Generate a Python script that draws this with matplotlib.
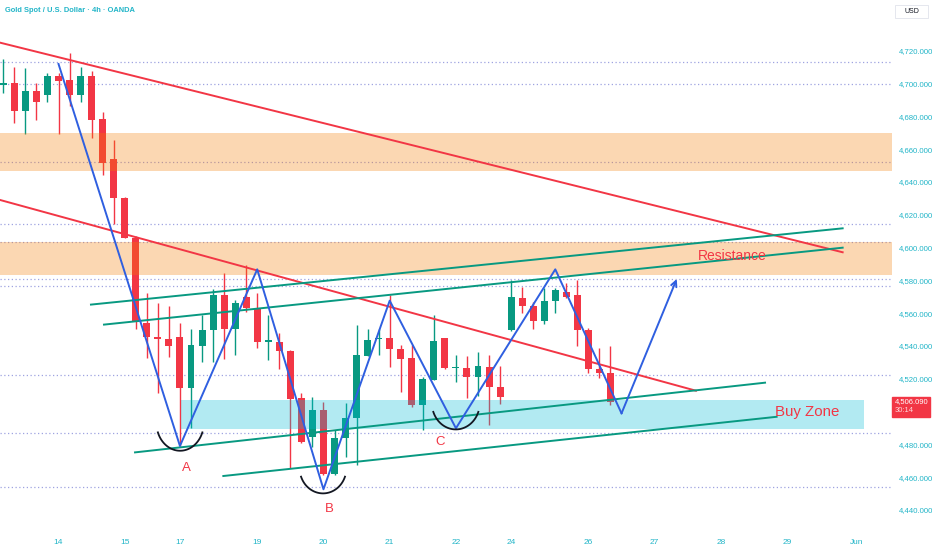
import matplotlib
matplotlib.use('Agg')
import matplotlib.pyplot as plt
from matplotlib import font_manager
from matplotlib.patches import Rectangle
import numpy as np

# XAUUSD 4h candles (bar index 0 = first bar on screen)
opens = [4699.1, 4700.5, 4683.2, 4695.6, 4693.0, 4704.8, 4702.1, 4693.0, 4704.6, 4678.4,
         4654.0, 4630.4, 4606.0, 4554.1, 4545.6, 4544.0, 4545.6, 4514.5, 4540.1, 4549.7,
         4571.0, 4550.1, 4570.0, 4562.9, 4542.7, 4542.6, 4537.1, 4508.0, 4484.6, 4500.9,
         4461.8, 4483.7, 4495.9, 4534.0, 4544.0, 4544.6, 4538.1, 4532.4, 4504.0, 4519.2,
         4544.6, 4526.4, 4526.3, 4521.2, 4527.3, 4515.1, 4549.7, 4569.4, 4564.5, 4555.4,
         4567.6, 4573.0, 4571.0, 4549.7, 4525.7, 4523.7]
highs = [4714.8, 4710.2, 4709.3, 4700.5, 4706.6, 4706.4, 4718.8, 4710.2, 4707.6, 4682.8,
         4665.5, 4631.0, 4607.0, 4572.1, 4566.3, 4564.3, 4554.1, 4550.1, 4558.8, 4574.5,
         4584.3, 4568.0, 4589.3, 4572.4, 4558.8, 4547.7, 4537.5, 4511.1, 4508.7, 4506.0,
         4488.7, 4505.0, 4552.7, 4550.1, 4550.1, 4571.0, 4540.5, 4540.5, 4521.2, 4558.8,
         4545.0, 4534.5, 4533.8, 4536.5, 4534.5, 4527.7, 4580.2, 4576.1, 4566.9, 4575.1,
         4575.1, 4578.2, 4580.2, 4550.7, 4538.5, 4540.0]
lows = [4694.0, 4676.1, 4669.2, 4677.7, 4688.9, 4669.0, 4686.3, 4688.5, 4667.0, 4644.2,
        4614.1, 4605.6, 4550.1, 4532.4, 4511.5, 4533.4, 4479.0, 4489.8, 4530.4, 4530.4,
        4531.8, 4534.5, 4560.9, 4538.5, 4531.4, 4526.0, 4465.4, 4480.8, 4478.5, 4461.3,
        4461.3, 4472.4, 4467.4, 4534.0, 4534.5, 4527.3, 4512.1, 4502.6, 4488.7, 4519.0,
        4526.0, 4518.2, 4508.0, 4509.5, 4491.8, 4504.6, 4549.0, 4559.9, 4550.1, 4553.4,
        4559.9, 4569.0, 4540.0, 4523.7, 4520.2, 4504.0]
closes = [4700.0, 4683.2, 4695.6, 4688.5, 4704.8, 4701.7, 4693.0, 4704.6, 4677.7, 4651.7,
          4630.0, 4606.0, 4554.8, 4545.6, 4544.0, 4540.1, 4514.5, 4540.5, 4549.7, 4571.0,
          4550.1, 4566.0, 4562.9, 4542.2, 4543.2, 4537.1, 4507.4, 4481.6, 4500.9, 4461.8,
          4483.7, 4495.9, 4534.4, 4543.6, 4544.6, 4538.1, 4532.0, 4504.0, 4519.6, 4543.2,
          4526.7, 4527.0, 4521.2, 4527.7, 4515.1, 4509.0, 4569.6, 4564.5, 4555.4, 4567.6,
          4574.1, 4570.0, 4549.7, 4525.7, 4523.7, 4506.09]

# time axis
day_pos = [5, 11, 16, 23, 29, 35, 41, 46, 53, 59, 65, 71, 77.3]
day_labels = ['14', '15', '17', '19', '20', '21', '22', '24', '26', '27', '28', '29', 'Jun']
price_ticks = [4440, 4460, 4480, 4520, 4540, 4560, 4580, 4600, 4620, 4640, 4660, 4680, 4700, 4720]

# drawings (bar index, price)
dotted_levels = [4712.9, 4699.5, 4652.3, 4614.1, 4603.5, 4580.6, 4576.3, 4522.1, 4487.2, 4453.8]
supply_zones = [(4646.8, 4669.6), (4583.4, 4603.6)]
buy_zone_x = (16.1, 77.96)
buy_zone_y = (4489.6, 4507.0)

red_lines = [([-0.3, 76.03], [4724.9, 4597.1]),
             ([-0.3, 62.74], [4629.0, 4512.7])]
green_lines = [([7.94, 76.03], [4565.2, 4611.7]),
               ([9.12, 76.03], [4553.0, 4599.9]),
               ([11.93, 69.0], [4475.1, 4517.6]),
               ([19.93, 70.05], [4460.7, 4496.8])]
wave_x = [5, 16, 23, 29, 35, 41, 50, 56, 61]
wave_y = [4711.9, 4479.0, 4586.7, 4452.6, 4567.6, 4489.8, 4586.7, 4498.9, 4580.8]

# smile arcs: left, right, top, bottom
arcs = [(14.0, 18.03, 4487.3, 4476.1),
        (26.97, 30.95, 4460.3, 4450.1),
        (38.95, 43.03, 4499.8, 4489.1)]
point_labels = [('A', 16.55, 4465.4), ('B', 29.53, 4440.4), ('C', 39.56, 4481.6)]

up_col = '#089981'
dn_col = '#f23645'
axis_col = '#22b5c8'
blue = '#2f5fe0'

names = {f.name for f in font_manager.fontManager.ttflist}
narrow = 'Liberation Sans Narrow' if 'Liberation Sans Narrow' in names else 'Liberation Sans'
plt.rcParams['font.family'] = [narrow, 'DejaVu Sans']

fig = plt.figure(figsize=(9.32, 5.5), dpi=100)
ax = fig.add_axes([0, 22 / 550, 892 / 932, 528 / 550])
ax.set_xlim(-0.3, 80.5)
ax.set_ylim(4429.0, 4750.9)

for lv in dotted_levels:
    ax.axhline(lv, color='#9fa3e0', lw=0.9, ls=(0, (1, 2)), zorder=1)

# candles
idx = np.arange(len(opens))
o = np.array(opens)
c = np.array(closes)
cols = [up_col if cc >= oo else dn_col for oo, cc in zip(o, c)]
ax.vlines(idx, lows, highs, colors=cols, lw=1, zorder=2)
body_h = np.maximum(np.abs(c - o), 0.8)
ax.bar(idx, body_h, bottom=np.minimum(o, c), width=0.63, color=cols, zorder=2)

# zones
for lo, hi in supply_zones:
    ax.axhspan(lo, hi, color='#f57c00', alpha=0.3, lw=0, zorder=3)
ax.fill_between(buy_zone_x, buy_zone_y[0], buy_zone_y[1], color='#00bcd4', alpha=0.3, lw=0, zorder=3)

for xs, ys in red_lines:
    ax.plot(xs, ys, color=dn_col, lw=1.4, zorder=4)
for xs, ys in green_lines:
    ax.plot(xs, ys, color=up_col, lw=1.4, zorder=4)

ax.plot(wave_x[:-1], wave_y[:-1], color=blue, lw=1.4, zorder=5)
ax.annotate('', xy=(wave_x[-1], wave_y[-1]), xytext=(wave_x[-2], wave_y[-2]),
            arrowprops=dict(arrowstyle='->', color=blue, lw=1.4, mutation_scale=10,
                            shrinkA=0, shrinkB=0), zorder=5)

t = np.linspace(np.radians(200), np.radians(340), 40)
for left, right, top, bottom in arcs:
    cx = (left + right) / 2
    a = (right - left) / 2 / abs(np.cos(np.radians(200)))
    b = (top - bottom) / (1 - abs(np.sin(np.radians(200))))
    cy = bottom + b
    ax.plot(cx + a * np.cos(t), cy + b * np.sin(t), color='#131722', lw=1.3, zorder=5)

for s, x, y in point_labels:
    ax.text(x, y, s, color=dn_col, fontsize=9.5, ha='center', va='center', zorder=6)
ax.text(66.05, 4595.1, 'Resistance', color=dn_col, fontsize=10, ha='center', va='center', zorder=6)
ax.text(72.84, 4499.9, 'Buy Zone', color=dn_col, fontsize=10.8, ha='center', va='center', zorder=6)

# axes styling
for sp in ax.spines.values():
    sp.set_visible(False)
ax.yaxis.tick_right()
ax.set_yticks(price_ticks)
ax.set_yticklabels([f'{p:,.3f}' for p in price_ticks])
ax.tick_params(axis='y', length=0, pad=5, labelsize=5.6, labelcolor=axis_col)
ax.set_xticks(day_pos)
ax.set_xticklabels(day_labels)
ax.tick_params(axis='x', length=0, pad=8, labelsize=6, labelcolor=axis_col)

# last price tag
fig.canvas.draw()
py = ax.transData.transform((0, closes[-1]))[1] / 550
fig.patches.append(Rectangle((892 / 932, py - 15 / 550), 38 / 932, 20 / 550,
                             transform=fig.transFigure, color=dn_col, zorder=10))
fig.text(895 / 932, py, f'{closes[-1]:,.3f}', color='white', fontsize=5.5, va='center', zorder=11)
fig.text(895 / 932, py - 9 / 550, '30:14', color='#ffd6da', fontsize=5.5, va='center', zorder=11)

# currency box
fig.patches.append(Rectangle((895 / 932, 1 - 18 / 550), 33 / 932, 13 / 550, transform=fig.transFigure,
                             facecolor='white', edgecolor='#e0e3eb', lw=0.6, zorder=10))
fig.text(911.5 / 932, 1 - 11.5 / 550, 'USD', color='#131722', fontsize=5, ha='center', va='center', zorder=11)

fig.text(5 / 932, 1 - 11 / 550, 'Gold Spot / U.S. Dollar · 4h · OANDA', color=axis_col,
         fontsize=5.4, fontweight='bold', va='center')

fig.savefig('out.png', dpi=100, facecolor='white')
